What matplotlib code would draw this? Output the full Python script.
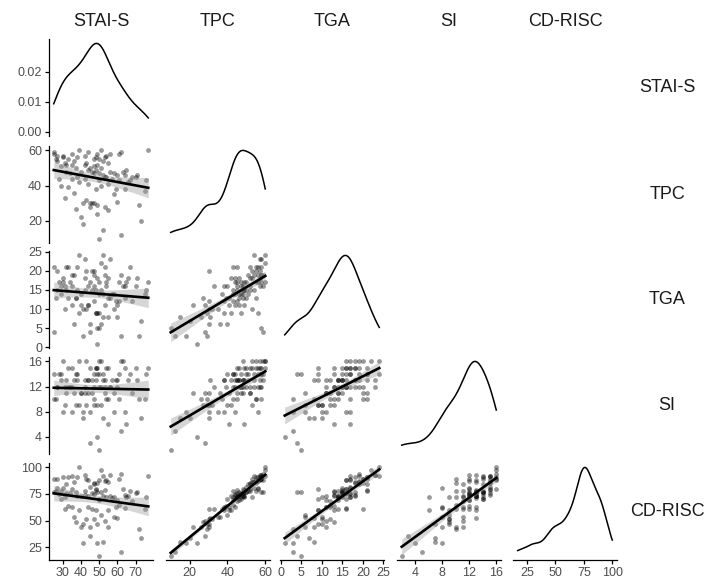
import numpy as np
import matplotlib.pyplot as plt

plt.rcParams['font.family'] = ['Liberation Sans', 'DejaVu Sans']

# variables of the pair plot (one value per respondent)
names = ["STAI-S", "TPC", "TGA", "SI", "CD-RISC"]

stai_s = [50, 62, 52, 41, 73, 40, 49, 55, 37, 45,
          53, 72, 41, 47, 60, 43, 31, 58, 36, 75,
          64, 48, 33, 51, 29, 55, 44, 66, 39, 50,
          76, 61, 46, 35, 57, 42, 49, 70, 68, 54,
          38, 45, 71, 64, 52, 47, 59, 34, 50, 63,
          40, 56, 32, 48, 44, 65, 28, 51, 37, 45,
          53, 29, 47, 60, 35, 49, 42, 67, 31, 55,
          43, 58, 36, 52, 27, 50, 26, 33, 46, 30,
          38, 48, 27, 30, 54, 42, 61, 25, 49, 35,
          56, 44, 62, 32, 25, 47, 51, 77, 39, 53]

tpc = [10, 12, 15, 18, 20, 22, 24, 26, 27, 28,
       28, 29, 30, 30, 31, 32, 33, 35, 36, 37,
       38, 38, 39, 40, 40, 41, 41, 42, 42, 43,
       43, 43, 30, 44, 44, 44, 29, 45, 45, 45,
       45, 30, 46, 46, 46, 47, 38, 47, 47, 48,
       48, 48, 48, 49, 49, 49, 44, 50, 50, 50,
       45, 51, 51, 46, 52, 52, 52, 43, 53, 53,
       53, 47, 54, 54, 54, 55, 55, 55, 48, 56,
       56, 56, 57, 57, 57, 57, 58, 58, 58, 58,
       58, 59, 59, 52, 59, 55, 60, 60, 60, 56]

tga = [5, 3, 8, 3, 7, 11, 1, 8, 13, 4,
       11, 3, 10, 12, 8, 10, 16, 10, 6, 14,
       16, 9, 13, 6, 16, 13, 11, 18, 9, 14,
       15, 12, 20, 11, 14, 18, 9, 16, 12, 17,
       15, 6, 18, 13, 14, 16, 12, 17, 9, 16,
       14, 13, 15, 15, 11, 17, 17, 15, 13, 17,
       21, 14, 19, 11, 16, 18, 15, 21, 10, 18,
       20, 14, 19, 24, 15, 17, 13, 21, 15, 17,
       21, 9, 20, 18, 16, 23, 17, 21, 5, 19,
       23, 16, 19, 21, 4, 20, 22, 17, 24, 19]

si = [2, 5, 7, 8, 7, 11, 4, 10, 9, 3,
      11, 10, 7, 9, 13, 9, 12, 8, 11, 10,
      8, 13, 12, 9, 14, 6, 11, 13, 9, 12,
      14, 10, 11, 8, 13, 12, 9, 15, 11, 10,
      13, 8, 13, 15, 13, 12, 13, 12, 14, 16,
      11, 12, 13, 15, 13, 6, 14, 12, 14, 15,
      13, 13, 14, 12, 12, 15, 11, 14, 9, 15,
      16, 11, 13, 14, 12, 16, 10, 15, 13, 8,
      14, 15, 12, 16, 15, 13, 14, 10, 14, 15,
      12, 13, 16, 11, 14, 10, 16, 15, 16, 12]

cd_risc = [17, 20, 30, 29, 34, 44, 29, 44, 49, 35,
           50, 42, 47, 51, 52, 51, 61, 53, 53, 61,
           62, 60, 64, 55, 70, 60, 63, 73, 60, 69,
           72, 65, 61, 63, 71, 74, 47, 76, 68, 72,
           73, 44, 77, 74, 73, 75, 63, 76, 70, 80,
           73, 73, 76, 79, 73, 72, 75, 77, 77, 82,
           79, 78, 84, 69, 80, 85, 78, 78, 72, 86,
           89, 72, 86, 92, 81, 88, 78, 91, 76, 81,
           91, 80, 89, 91, 88, 93, 89, 89, 77, 92,
           93, 88, 94, 84, 77, 85, 98, 92, 100, 87]

data = [stai_s, tpc, tga, si, cd_risc]

axis_ticks = [[30, 40, 50, 60, 70],
              [20, 40, 60],
              [0, 5, 10, 15, 20, 25],
              [4, 8, 12, 16],
              [25, 50, 75, 100]]
density_ticks = [0.00, 0.01, 0.02]


def kde(values, n_points=512):
    # gaussian kernel, bw.nrd0 like R / ggplot
    v = np.asarray(values, dtype=float)
    sd = v.std(ddof=1)
    iqr = np.subtract(*np.percentile(v, [75, 25]))
    bw = 0.9 * min(sd, iqr / 1.34) * len(v) ** -0.2
    xs = np.linspace(v.min(), v.max(), n_points)
    ys = np.exp(-0.5 * ((xs[:, None] - v[None, :]) / bw) ** 2).sum(axis=1)
    ys /= len(v) * bw * np.sqrt(2 * np.pi)
    return xs, ys


def lm_band(x, y, n_points=80, tcrit=1.984):
    x = np.asarray(x, dtype=float)
    y = np.asarray(y, dtype=float)
    slope, intercept = np.polyfit(x, y, 1)
    resid = y - (slope * x + intercept)
    s = np.sqrt((resid ** 2).sum() / (len(x) - 2))
    xs = np.linspace(x.min(), x.max(), n_points)
    fit = slope * xs + intercept
    se = s * np.sqrt(1 / len(x) + (xs - x.mean()) ** 2 / ((x - x.mean()) ** 2).sum())
    return xs, fit, fit - tcrit * se, fit + tcrit * se


def padded(values):
    lo, hi = min(values), max(values)
    pad = (hi - lo) * 0.05
    return lo - pad, hi + pad


W, H = 706, 579
fig = plt.figure(figsize=(W / 100, H / 100), dpi=100)

col_left = [49, 166, 280, 397, 513]
col_width = 104
row_top = [39, 146, 251, 357, 463]
row_height = 97

tick_color = "#4d4d4d"
label_color = "#1a1a1a"

for i in range(5):
    for j in range(i + 1):
        ax = fig.add_axes([col_left[j] / W, 1 - (row_top[i] + row_height) / H,
                           col_width / W, row_height / H])
        ax.set_xlim(padded(data[j]))
        for side in ["top", "right", "left", "bottom"]:
            ax.spines[side].set_visible(False)

        if i == j:
            xs, ys = kde(data[i])
            ax.plot(xs, ys, color="black", lw=1.1)
            ax.set_ylim(-0.05 * ys.max(), 1.05 * ys.max())
        else:
            ax.scatter(data[j], data[i], s=12, color="black", alpha=0.4, linewidths=0)
            xs, fit, lo, hi = lm_band(data[j], data[i])
            ax.fill_between(xs, lo, hi, color="#999999", alpha=0.4, linewidth=0)
            ax.plot(xs, fit, color="black", lw=1.9)
            ax.set_ylim(padded(data[i]))

        ax.tick_params(axis="both", direction="out", length=3, width=0.9,
                       colors="black", labelcolor=tick_color, labelsize=9, pad=2)

        if j == 0:
            ax.spines["left"].set_visible(True)
            ax.spines["left"].set_linewidth(0.9)
            if i == 0:
                ax.set_yticks(density_ticks)
                ax.set_yticklabels(["%.2f" % t for t in density_ticks])
            else:
                ax.set_yticks(axis_ticks[i])
        else:
            ax.set_yticks([])

        if i == 4:
            ax.spines["bottom"].set_visible(True)
            ax.spines["bottom"].set_linewidth(0.9)
            ax.set_xticks(axis_ticks[j])
        else:
            ax.set_xticks([])

# column labels on top, row labels on the right
for k, name in enumerate(names):
    fig.text((col_left[k] + col_width / 2) / W, 1 - 21 / H, name,
             ha="center", va="center", fontsize=13, color=label_color)
    fig.text(667 / W, 1 - (row_top[k] + row_height / 2) / H, name,
             ha="center", va="center", fontsize=13, color=label_color)

fig.savefig("out.png", dpi=100)
